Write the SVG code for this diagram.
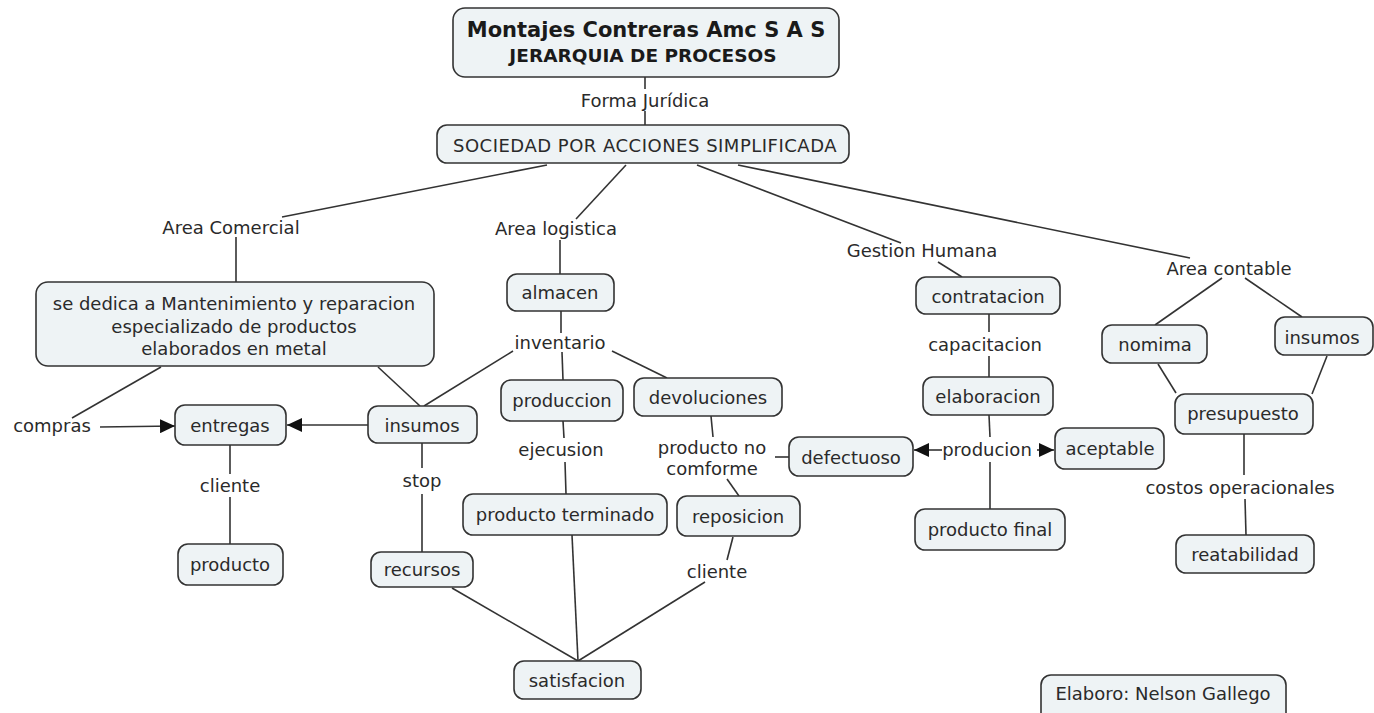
<svg xmlns="http://www.w3.org/2000/svg" width="1374" height="713" viewBox="0 0 1374 713">
<style>
text{font-family:"DejaVu Sans","Liberation Sans",sans-serif;font-size:18px;fill:#2a2a2a;text-anchor:middle;dominant-baseline:central}
.n rect{fill:#eef3f5;stroke:#333;stroke-width:1.6}
.c line{stroke:#333;stroke-width:1.6}
.t{font-weight:bold;fill:#1a1a1a}
</style>
<defs>
<marker id="ah" markerUnits="userSpaceOnUse" markerWidth="16" markerHeight="14" refX="15" refY="7" orient="auto">
<path d="M0,0 L15,7 L0,14 z" fill="#111"/>
</marker>
</defs>
<rect width="1374" height="713" fill="#fff"/>
<g class="c" id="connectors">
<line x1="645" y1="77" x2="645" y2="89"/>
<line x1="645" y1="111" x2="645" y2="125"/>
<line x1="547" y1="165" x2="282" y2="217"/>
<line x1="236" y1="237" x2="236" y2="282"/>
<line x1="626" y1="165" x2="576" y2="219"/>
<line x1="560" y1="240" x2="560" y2="274"/>
<line x1="697" y1="165" x2="901" y2="243"/>
<line x1="938" y1="262" x2="962" y2="277"/>
<line x1="738" y1="165" x2="1190" y2="258"/>
<line x1="1222" y1="278" x2="1155" y2="325"/>
<line x1="1245" y1="278" x2="1302" y2="317"/>
<line x1="161" y1="367" x2="72" y2="418"/>
<line x1="378" y1="367" x2="420" y2="406"/>
<line x1="561" y1="311" x2="561" y2="333"/>
<line x1="513" y1="351" x2="424" y2="406"/>
<line x1="562" y1="352" x2="563" y2="380"/>
<line x1="612" y1="351" x2="667" y2="378"/>
<line x1="100" y1="427" x2="175" y2="426" marker-end="url(#ah)"/>
<line x1="368" y1="425" x2="287" y2="425" marker-end="url(#ah)"/>
<line x1="230" y1="445" x2="230" y2="474"/>
<line x1="230" y1="497" x2="230" y2="544"/>
<line x1="422" y1="443" x2="422" y2="468"/>
<line x1="422" y1="494" x2="422" y2="552"/>
<line x1="563" y1="421" x2="564" y2="438"/>
<line x1="565" y1="462" x2="566" y2="494"/>
<line x1="711" y1="416" x2="713" y2="437"/>
<line x1="775" y1="457" x2="789" y2="457"/>
<line x1="727" y1="479" x2="739" y2="496"/>
<line x1="733" y1="537" x2="727" y2="560"/>
<line x1="705" y1="582" x2="578" y2="661"/>
<line x1="572" y1="535" x2="578" y2="661"/>
<line x1="452" y1="588" x2="578" y2="661"/>
<line x1="989" y1="314" x2="989" y2="332"/>
<line x1="989" y1="356" x2="989" y2="377"/>
<line x1="989" y1="415" x2="990" y2="437"/>
<line x1="990" y1="462" x2="990" y2="509"/>
<line x1="942" y1="450" x2="914" y2="450" marker-end="url(#ah)"/>
<line x1="1037" y1="450" x2="1054" y2="450" marker-end="url(#ah)"/>
<line x1="1158" y1="364" x2="1176" y2="393"/>
<line x1="1327" y1="356" x2="1312" y2="394"/>
<line x1="1244" y1="434" x2="1244" y2="475"/>
<line x1="1245" y1="499" x2="1246" y2="535"/>
</g>
<g id="labels">
<text x="645" y="100">Forma Jurídica</text>
<text x="231" y="227">Area Comercial</text>
<text x="556" y="228">Area logistica</text>
<text x="922" y="250">Gestion Humana</text>
<text x="1229" y="268">Area contable</text>
<text x="560" y="342">inventario</text>
<text x="52" y="425">compras</text>
<text x="230" y="485">cliente</text>
<text x="422" y="480">stop</text>
<text x="561" y="449">ejecusion</text>
<text x="712" y="447">producto no</text>
<text x="712" y="468">comforme</text>
<text x="985" y="344">capacitacion</text>
<text x="987" y="449">producion</text>
<text x="717" y="571">cliente</text>
<text x="1240" y="487">costos operacionales</text>
</g>
<g class="n" id="title"><rect x="453" y="8" width="386" height="69" rx="12"/><text class="t" x="646" y="30" style="font-size:21px">Montajes Contreras Amc S A S</text><text class="t" x="643" y="55" style="font-size:18.5px">JERARQUIA DE PROCESOS</text></g>
<g class="n" id="sociedad"><rect x="437" y="125" width="412" height="38" rx="10"/><text x="645" y="145" style="letter-spacing:0.5px">SOCIEDAD POR ACCIONES SIMPLIFICADA</text></g>
<g class="n" id="mantenimiento"><rect x="36" y="282" width="398" height="84" rx="12"/><text x="234" y="303">se dedica a Mantenimiento y reparacion</text><text x="234" y="326">especializado de productos</text><text x="234" y="348">elaborados en metal</text></g>
<g class="n" id="almacen"><rect x="507" y="274" width="107" height="37" rx="10"/><text x="560" y="292">almacen</text></g>
<g class="n" id="entregas"><rect x="175" y="405" width="111" height="40" rx="10"/><text x="230" y="425">entregas</text></g>
<g class="n" id="insumos"><rect x="368" y="406" width="109" height="37" rx="10"/><text x="422" y="425">insumos</text></g>
<g class="n" id="producto"><rect x="178" y="544" width="105" height="41" rx="10"/><text x="230" y="564">producto</text></g>
<g class="n" id="recursos"><rect x="371" y="552" width="102" height="35" rx="10"/><text x="422" y="569">recursos</text></g>
<g class="n" id="produccion"><rect x="501" y="380" width="122" height="41" rx="10"/><text x="562" y="400">produccion</text></g>
<g class="n" id="devoluciones"><rect x="634" y="378" width="148" height="38" rx="10"/><text x="708" y="397">devoluciones</text></g>
<g class="n" id="producto-terminado"><rect x="463" y="494" width="204" height="41" rx="10"/><text x="565" y="514">producto terminado</text></g>
<g class="n" id="reposicion"><rect x="677" y="496" width="123" height="40" rx="10"/><text x="738" y="516">reposicion</text></g>
<g class="n" id="satisfacion"><rect x="514" y="661" width="127" height="38" rx="10"/><text x="577" y="680">satisfacion</text></g>
<g class="n" id="contratacion"><rect x="916" y="277" width="144" height="37" rx="10"/><text x="988" y="296">contratacion</text></g>
<g class="n" id="elaboracion"><rect x="923" y="377" width="130" height="38" rx="10"/><text x="988" y="396">elaboracion</text></g>
<g class="n" id="defectuoso"><rect x="789" y="437" width="124" height="39" rx="10"/><text x="851" y="457">defectuoso</text></g>
<g class="n" id="aceptable"><rect x="1055" y="428" width="109" height="41" rx="10"/><text x="1110" y="448">aceptable</text></g>
<g class="n" id="producto-final"><rect x="915" y="509" width="150" height="41" rx="10"/><text x="990" y="529">producto final</text></g>
<g class="n" id="nomima"><rect x="1102" y="325" width="105" height="38" rx="10"/><text x="1155" y="344">nomima</text></g>
<g class="n" id="insumos-contable"><rect x="1275" y="317" width="98" height="38" rx="10"/><text x="1322" y="337">insumos</text></g>
<g class="n" id="presupuesto"><rect x="1175" y="394" width="138" height="40" rx="10"/><text x="1243" y="413">presupuesto</text></g>
<g class="n" id="reatabilidad"><rect x="1176" y="535" width="138" height="38" rx="10"/><text x="1245" y="554">reatabilidad</text></g>
<g class="n" id="elaboro"><rect x="1041" y="675" width="245" height="50" rx="10"/><text x="1163" y="693">Elaboro: Nelson Gallego</text></g>
</svg>
